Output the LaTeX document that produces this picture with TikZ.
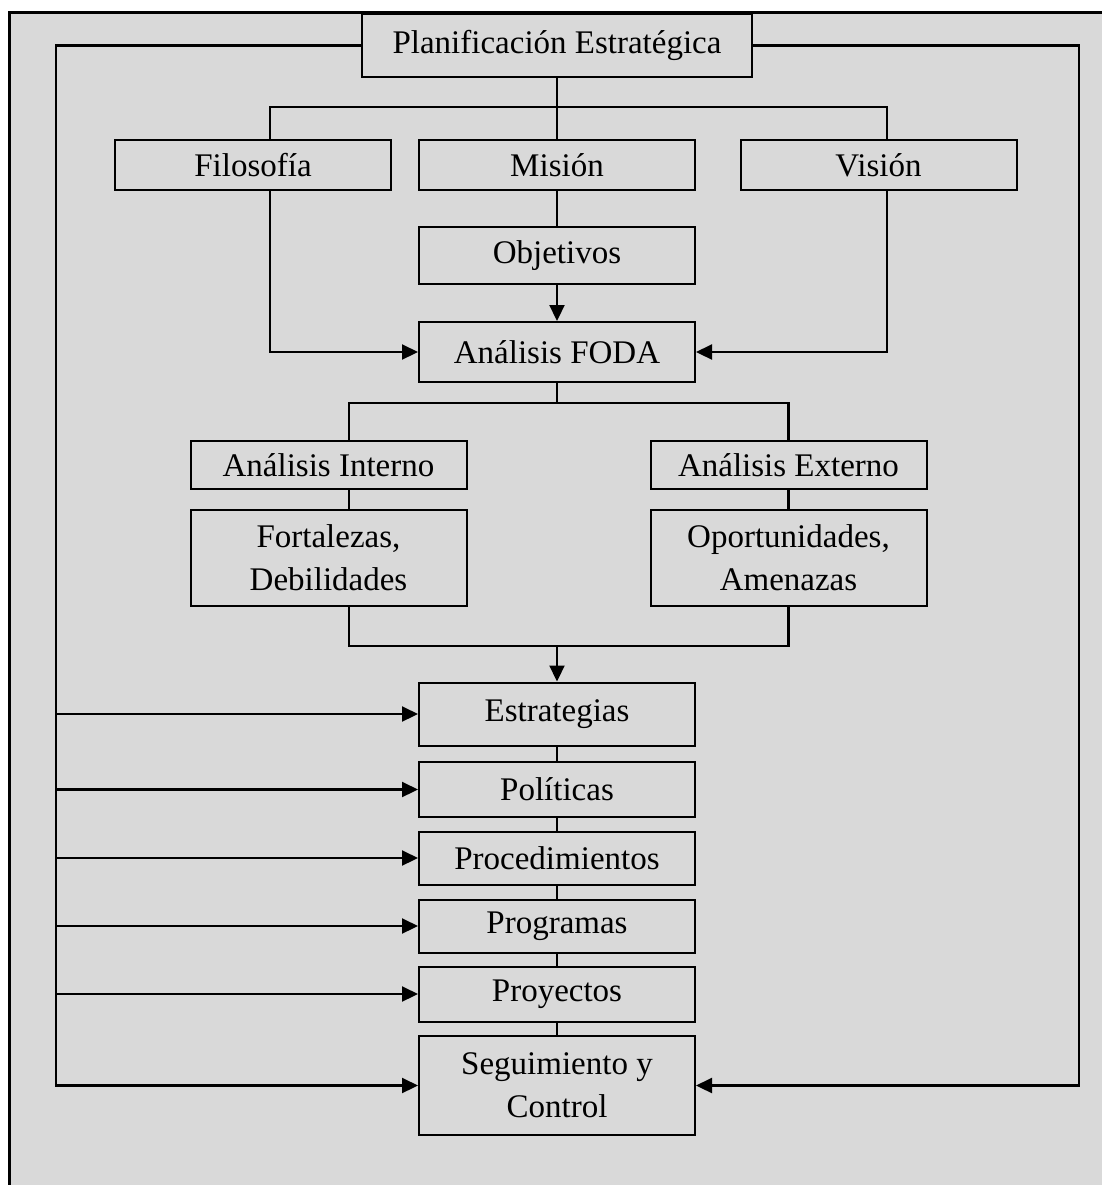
\documentclass[tikz,border=0pt]{standalone}
\usepackage{fontspec}
\setmainfont{Liberation Serif}
\usetikzlibrary{arrows.meta}
\definecolor{fondo}{RGB}{217,217,217}

\begin{document}
\begin{tikzpicture}[x=0.5pt,y=-0.5pt,>={Triangle[length=8pt,width=7.5pt]}]
        \tikzstyle{box}=[draw,fill=fondo,line width=1pt,inner sep=0pt,minimum width=138pt,align=center,font=\fontsize{16.5}{21.5}\selectfont]
        \tikzstyle{con}=[line width=1.1pt]
        \useasboundingbox (0,0) rectangle (1102,1185);
        \fill[fondo] (9,12) rectangle (1102,1185);
        \draw[line width=1.5pt] (9,1185) -- (9,12) -- (1102,12);
        % cabecera
        \node[box,minimum width=195pt,minimum height=31.5pt] (plan) at (557,45.5) {Planificación Estratégica};
        \node[box,minimum height=25pt] (filo) at (253,165) {Filosofía};
        \node[box,minimum height=25pt] (mision) at (557,165) {Misión};
        \node[box,minimum height=25pt] (vision) at (878.5,165) {Visión};
        \node[box,minimum height=28.5pt] (obj) at (557,255.5) {Objetivos};
        \node[box,minimum height=30pt] (foda) at (557,352) {Análisis FODA};
        % analisis
        \node[box,minimum height=24pt] (intern) at (328.5,465) {Análisis Interno};
        \node[box,minimum height=24pt] (extern) at (788.5,465) {Análisis Externo};
        \node[box,minimum height=48pt] (fort) at (328.5,558) {Fortalezas,\\Debilidades};
        \node[box,minimum height=48pt] (oport) at (788.5,558) {Oportunidades,\\Amenazas};
        % columna
        \node[box,minimum height=31.5pt] (estr) at (557,714) {Estrategias};
        \node[box,minimum height=27.5pt] (pol) at (557,789.5) {Políticas};
        \node[box,minimum height=26.5pt] (proc) at (557,858) {Procedimientos};
        \node[box,minimum height=26.5pt] (prog) at (557,926) {Programas};
        \node[box,minimum height=27.5pt] (proy) at (557,994) {Proyectos};
        \node[box,minimum height=49.5pt] (seg) at (557,1085.5) {Seguimiento y\\Control};
        \coordinate (split) at (557,403);
        \coordinate (join) at (557,646);
        \coordinate (lft) at (56,45.5);
        \coordinate (rgt) at (1079,45.5);
        % conectores
        \draw[con] (plan) -- (mision);
        \draw[con] ([xshift=8.5pt]filo.north) -- ++(0,-32) -| ([xshift=4.25pt]vision.north);
        \draw[con] (mision) -- (obj);
        \draw[con,->] (obj) -- (foda);
        \draw[con,->] ([xshift=8.5pt]filo.south) |- (foda.west);
        \draw[con,->] ([xshift=4.25pt]vision.south) |- (foda.east);
        \draw[con] (foda) -- (split);
        \draw[con] ([xshift=10.25pt]intern.north) |- (split) -| (extern.north);
        \draw[con] ([xshift=10.25pt]intern.south) -- ([xshift=10.25pt]fort.north);
        \draw[con] (extern) -- (oport);
        \draw[con] ([xshift=10.25pt]fort.south) |- (join) -| (oport.south);
        \draw[con,->] (join) -- (estr);
        \foreach \a/\b in {estr/pol,pol/proc,proc/prog,prog/proy,proy/seg}
            \draw[con] (\a) -- (\b);
        \draw[con,->] (plan.west) -- (lft) |- (seg.west);
        \foreach \n in {estr,pol,proc,prog,proy}
            \draw[con,->] (lft |- \n) -- (\n.west);
        \draw[con,->] (plan.east) -- (rgt) |- (seg.east);
    \end{tikzpicture}
\end{document}
